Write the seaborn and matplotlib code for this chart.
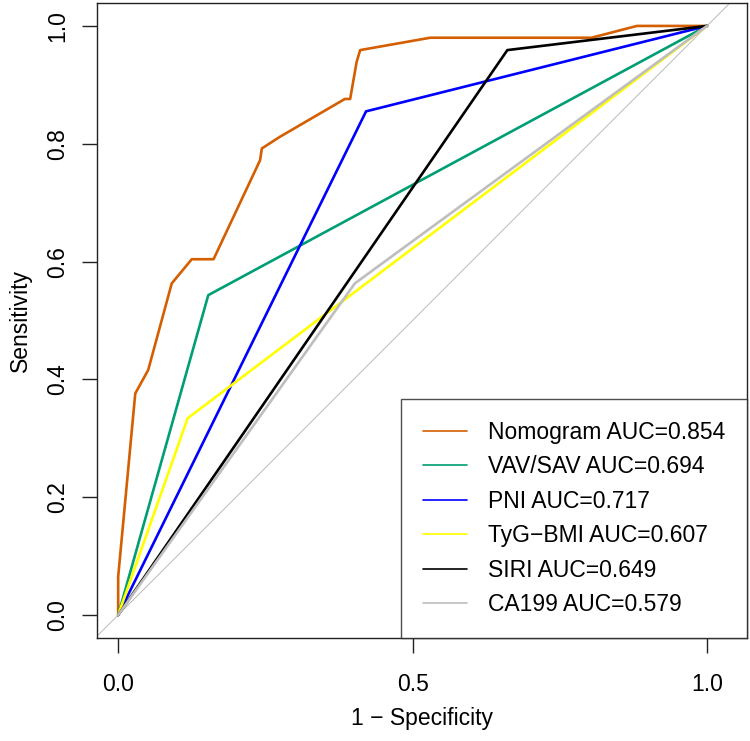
import pandas as pd
import numpy as np
import seaborn as sns
import matplotlib.pyplot as plt

sns.set_style("ticks")
plt.rcParams['font.family'] = ['Liberation Sans', 'DejaVu Sans']
plt.rcParams['text.color'] = 'black'
plt.rcParams['axes.labelcolor'] = 'black'
plt.rcParams['xtick.color'] = 'black'
plt.rcParams['ytick.color'] = 'black'

# ROC points (1 - specificity, sensitivity)
nomo_fpr = [0.0, 0.0, 0.029, 0.051, 0.091, 0.125, 0.162, 0.241, 0.244, 0.275,
            0.385, 0.394, 0.405, 0.411, 0.530, 0.804, 0.881, 1.0]
nomo_tpr = [0.0, 0.065, 0.376, 0.416, 0.563, 0.604, 0.604, 0.772, 0.792, 0.812,
            0.876, 0.876, 0.939, 0.959, 0.980, 0.980, 1.0, 1.0]
vav_fpr = [0.0, 0.153, 1.0]
vav_tpr = [0.0, 0.543, 1.0]
pni_fpr = [0.0, 0.421, 1.0]
pni_tpr = [0.0, 0.855, 1.0]
tyg_fpr = [0.0, 0.118, 1.0]
tyg_tpr = [0.0, 0.334, 1.0]
siri_fpr = [0.0, 0.661, 1.0]
siri_tpr = [0.0, 0.959, 1.0]
ca_fpr = [0.0, 0.402, 1.0]
ca_tpr = [0.0, 0.563, 1.0]

names = ['Nomogram', 'VAV/SAV', 'PNI', 'TyG\u2212BMI', 'SIRI', 'CA199']
aucs = [0.854, 0.694, 0.717, 0.607, 0.649, 0.579]
colors = ['#D55E00', '#009E73', '#0000FF', '#FFFF00', '#000000', '#BEBEBE']
fprs = [nomo_fpr, vav_fpr, pni_fpr, tyg_fpr, siri_fpr, ca_fpr]
tprs = [nomo_tpr, vav_tpr, pni_tpr, tyg_tpr, siri_tpr, ca_tpr]

rows = []
for n, a, fx, ty in zip(names, aucs, fprs, tprs):
    lab = f'{n} AUC={a:.3f}'
    for x, y in zip(fx, ty):
        rows.append({'model': lab, 'fpr': x, 'tpr': y})
df = pd.DataFrame(rows)
labels = [f'{n} AUC={a:.3f}' for n, a in zip(names, aucs)]

fig = plt.figure(figsize=(7.5, 7.41), dpi=100)
ax = fig.add_axes([0.1293, 0.139, 0.8667, 0.857])

ax.axline((0, 0), (1, 1), color='#B0B0B0', lw=0.6, zorder=1)
sns.lineplot(data=df, x='fpr', y='tpr', hue='model', hue_order=labels,
             palette=dict(zip(labels, colors)), sort=False, estimator=None,
             lw=1.9, ax=ax)

ax.set_xlim(-0.036, 1.068)
ax.set_ylim(-0.039, 1.039)
ax.set_xticks([0.0, 0.5, 1.0])
ax.set_xticklabels(['0.0', '0.5', '1.0'])
ax.set_yticks([0.0, 0.2, 0.4, 0.6, 0.8, 1.0])
ax.set_yticklabels(['0.0', '0.2', '0.4', '0.6', '0.8', '1.0'], rotation=90, va='center')
ax.tick_params(axis='both', labelsize=16.5, length=10.5, width=1.0, color='#222222')
ax.tick_params(axis='x', pad=15)
ax.tick_params(axis='y', pad=9.5)
for s in ax.spines.values():
    s.set_linewidth(1.0)
    s.set_color('#222222')

ax.set_xlabel('1 \u2212 Specificity', fontsize=16.5, labelpad=7.5)
ax.set_ylabel('Sensitivity', fontsize=16.5, labelpad=10)

leg = ax.legend(loc='lower right', bbox_to_anchor=(1, 0), borderaxespad=0,
                fontsize=16.5, frameon=True, fancybox=False, edgecolor='#222222',
                borderpad=0.95, labelspacing=0.5, handlelength=1.92,
                handletextpad=0.92)
leg.get_frame().set_linewidth(1.0)
for ln in leg.get_lines():
    ln.set_linewidth(1.2)

plt.savefig('out.png', dpi=100)
